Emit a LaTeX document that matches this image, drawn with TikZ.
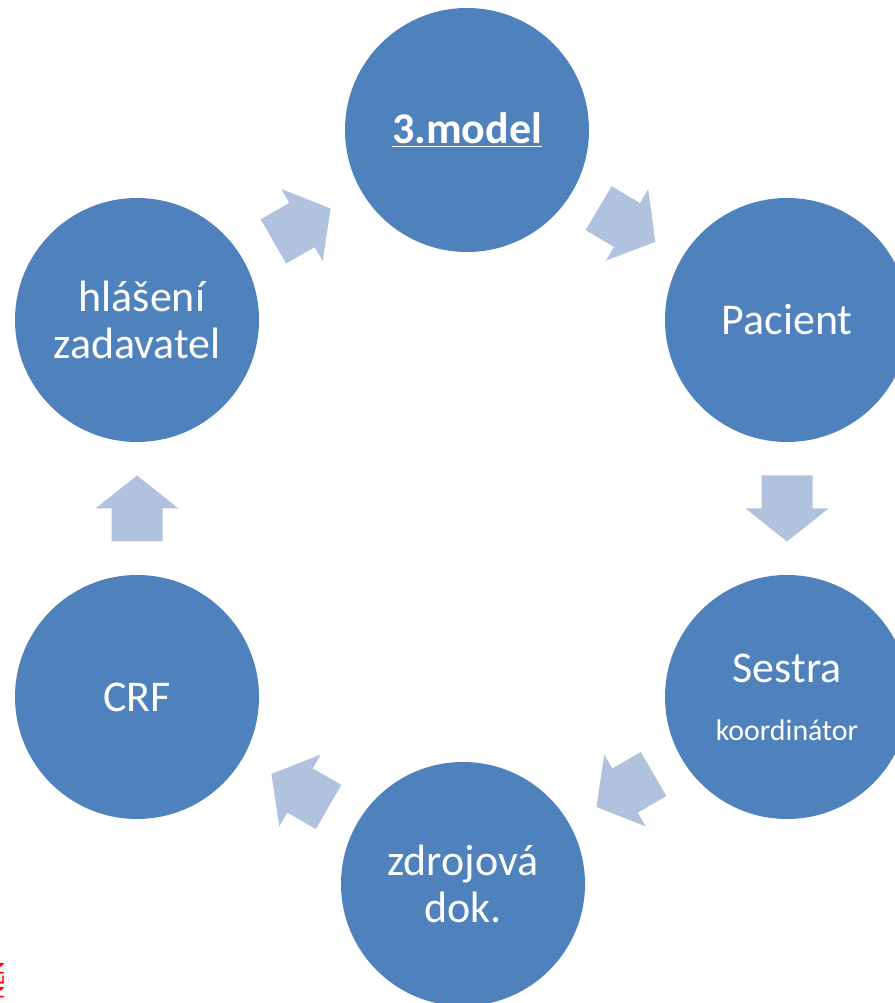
\documentclass[tikz,border=0pt]{standalone}
\usepackage{fontspec}
\setmainfont{Carlito}
\usetikzlibrary{calc}
\definecolor{circblue}{RGB}{79,129,189}
\definecolor{arrowblue}{RGB}{176,194,222}
\begin{document}
\begin{tikzpicture}[
    stepcirc/.style={circle, fill=circblue, text=white, minimum size=4.88cm, inner sep=0pt, align=center, font=\fontsize{25}{27}\selectfont},
    blockarrow/.style={fill=arrowblue}]
    \useasboundingbox (0,0) rectangle (17.9,20.06);
    \node[stepcirc] (top) at (9.34,17.46) {\underline{\textbf{3.model}}};
    \node[stepcirc] (pac) at (15.74,13.66) {Pacient};
    \node[stepcirc] (ses) at (15.74,6.12) {Sestra\\[6pt]{\fontsize{17}{19}\selectfont koordinátor}};
    \node[stepcirc] (zdr) at (9.26,2.38) {zdrojová\\dok.};
    \node[stepcirc] (crf) at (2.74,6.12) {CRF};
    \node[stepcirc] (hls) at (2.74,13.66) {\ hlášení\\zadavatel};
    % block arrows between the circles
    \foreach \a/\b/\ang in {hls/top/29.9, top/pac/-30.7, pac/ses/-90, ses/zdr/-150, zdr/crf/150, crf/hls/90}{
      \fill[blockarrow, shift={($(\a)!0.5!(\b)$)}, rotate=\ang]
        (-0.66,-0.51) -- (0,-0.51) -- (0,-0.83) -- (0.66,0) -- (0,0.83) -- (0,0.51) -- (-0.66,0.51) -- cycle;
    }
    \node[rotate=90, text=red, font=\fontsize{12}{13}\selectfont, anchor=south] (mark) at (0.2,0.45) {NEN};
\end{tikzpicture}
\end{document}
